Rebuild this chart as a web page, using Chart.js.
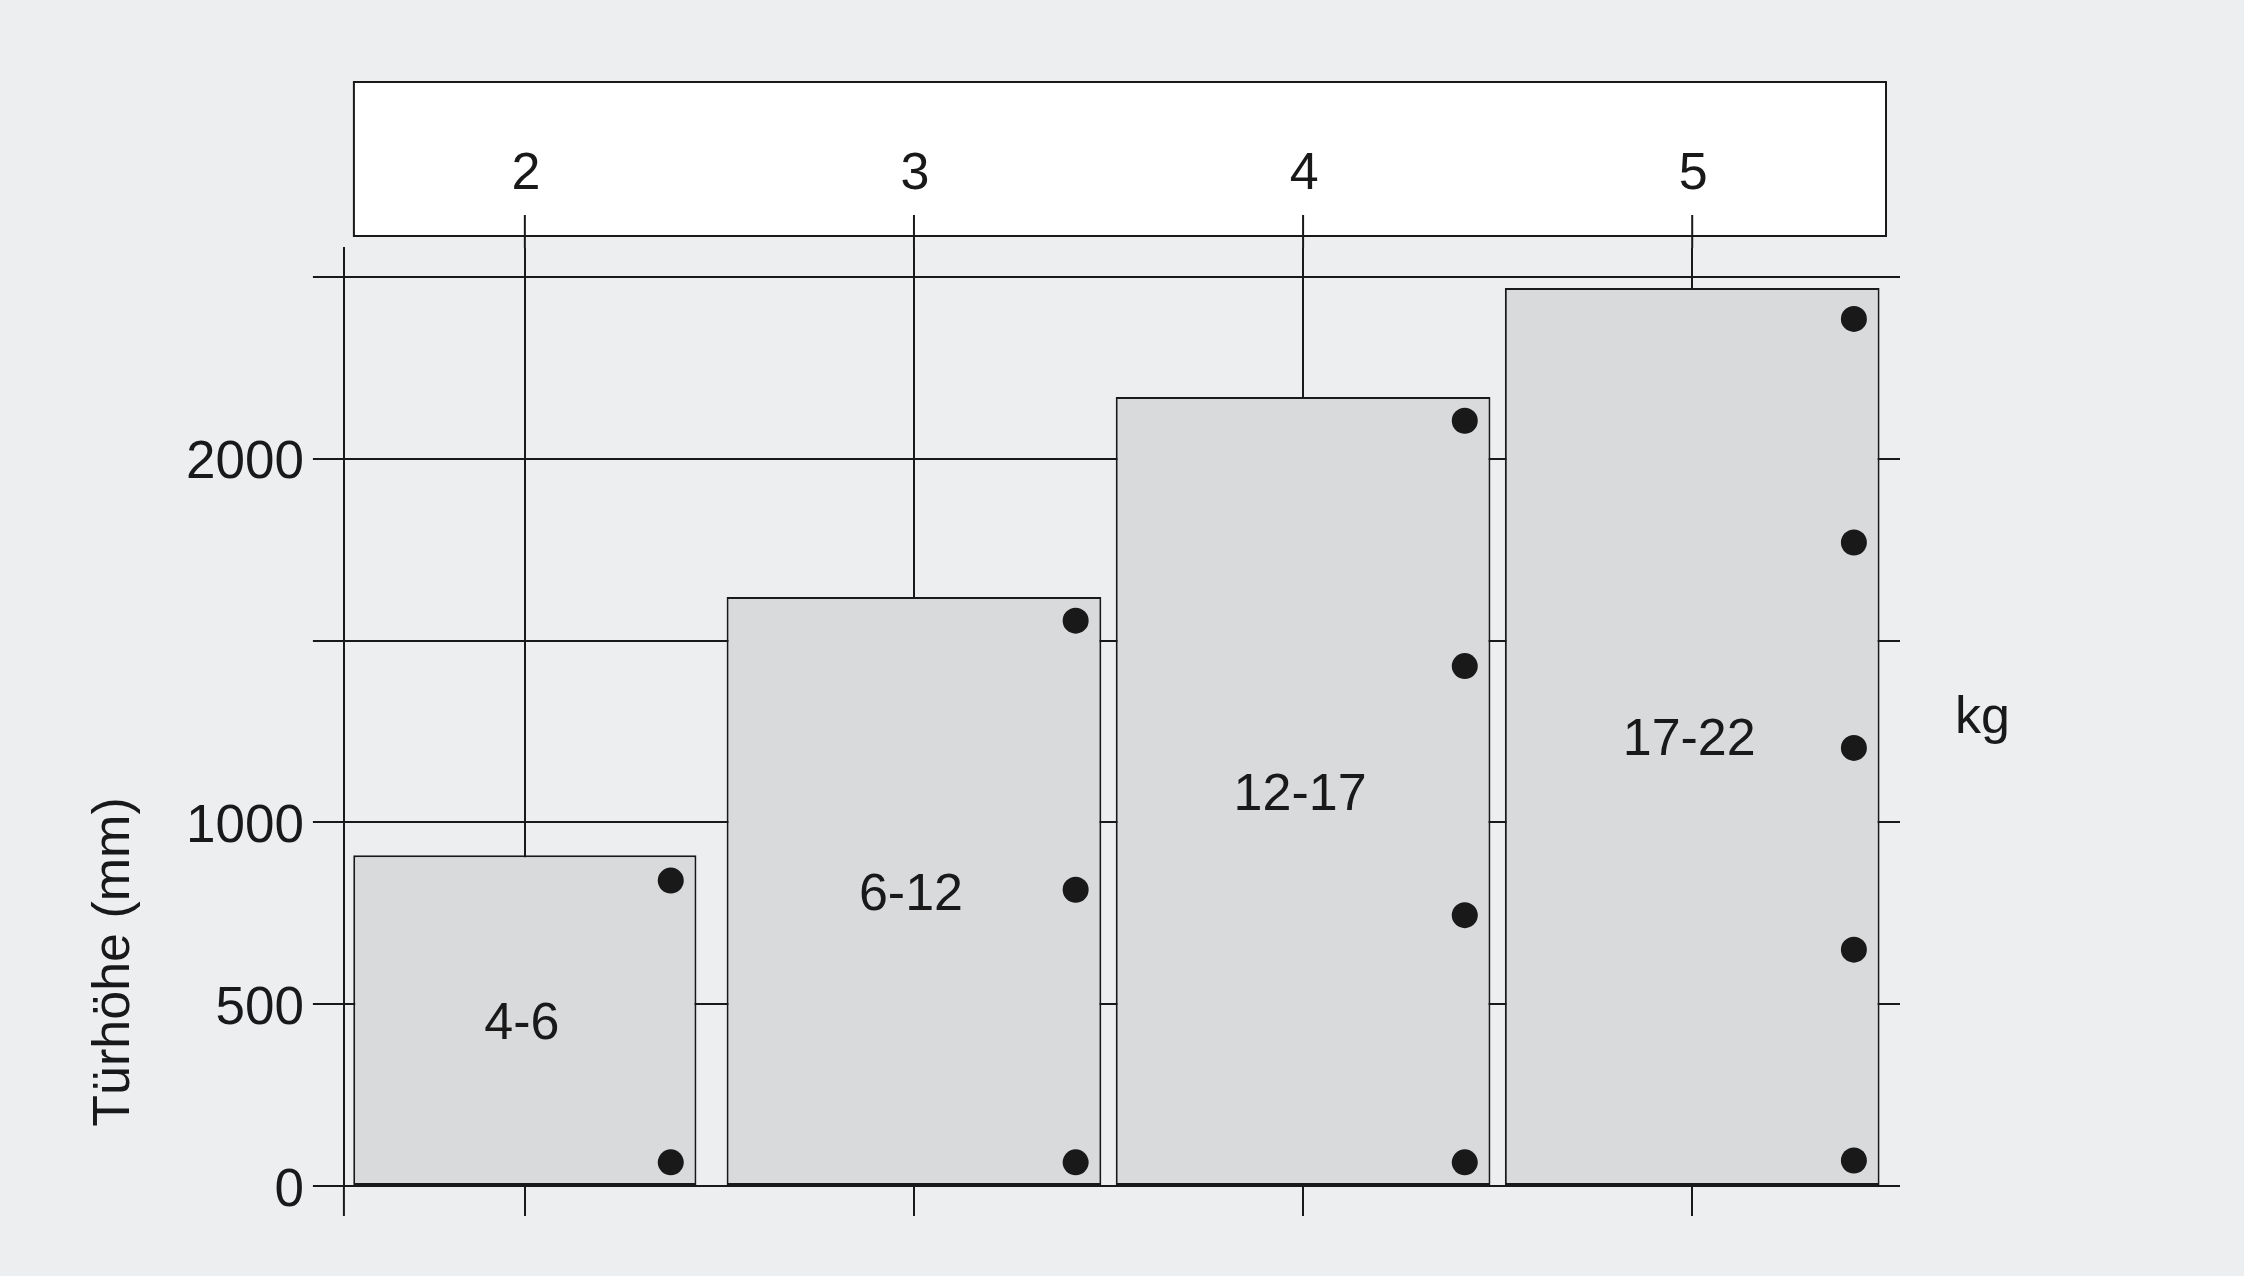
<!DOCTYPE html>
<html>
<head>
<meta charset="utf-8">
<script src="https://cdn.jsdelivr.net/npm/chart.js@4.4.1/dist/chart.umd.min.js"></script>
<style>
    html, body { margin: 0; padding: 0; background: #eceef0; }
    #wrap { width: 2244px; height: 1276px; position: relative; }
</style>
</head>
<body>
<div id="wrap"><canvas id="chart"></canvas></div>
<script>
// Number of hinges per door size
const hinges = [2, 3, 4, 5];
// Max door height (mm) for each hinge count
const doorHeights = [910, 1620, 2170, 2470];
// Door weight range (kg)
const weightRanges = ['4-6', '6-12', '12-17', '17-22'];
// Hinge heights (mm) drawn as dots on each door
const hingePositions = [
    [840, 65],
    [1555, 815, 65],
    [2105, 1430, 745, 65],
    [2385, 1770, 1205, 650, 70]
];
const yStep = 500;
const yTickLabels = [0, 500, 1000, 2000];
const yAxisTitle = 'Türhöhe (mm)';
const unitLabel = 'kg';

const INK = '#19191a';
const BG = '#eceef0';
const FONT = '"Liberation Sans", Arial, sans-serif';
const LINE = 2;
const narrowBar = 0.882;
const wideBar = 0.963;

function barPct(i) {
    return i === 0 ? narrowBar : wideBar;
}

const dots = [];
hingePositions.forEach((list, i) => {
    list.forEach(v => dots.push({ x: hinges[i] + barPct(i) / 2 - 0.066, y: v }));
});

const decor = {
    id: 'decor',
    beforeDraw(chart) {
        const ctx = chart.ctx;
        ctx.save();
        ctx.fillStyle = BG;
        ctx.fillRect(0, 0, chart.width, chart.height);
        ctx.restore();
    },
    afterDraw(chart) {
        const { ctx, chartArea: a, scales: { x, y } } = chart;
        ctx.save();
        ctx.strokeStyle = INK;
        ctx.fillStyle = INK;
        ctx.lineWidth = LINE;
        ctx.font = '52px ' + FONT;
        ctx.textAlign = 'center';
        ctx.textBaseline = 'middle';

        // y axis runs on below the zero line
        ctx.beginPath();
        ctx.moveTo(a.left, a.bottom);
        ctx.lineTo(a.left, a.bottom + 30);
        ctx.stroke();

        // header box with hinge counts
        const boxL = a.left + 10, boxR = a.right - 14;
        const boxB = a.top - 12, boxT = boxB - 154;
        ctx.fillStyle = '#ffffff';
        ctx.fillRect(boxL, boxT, boxR - boxL, boxB - boxT);
        ctx.strokeRect(boxL, boxT, boxR - boxL, boxB - boxT);
        ctx.fillStyle = INK;
        hinges.forEach(h => {
            const px = x.getPixelForValue(h);
            ctx.beginPath();
            ctx.moveTo(px, boxB - 21);
            ctx.lineTo(px, a.top);
            ctx.stroke();
            ctx.fillText(String(h), px + 1, boxT + 93);
        });

        // weight labels inside doors
        weightRanges.forEach((t, i) => {
            ctx.fillText(t, x.getPixelForValue(hinges[i]) - 3, y.getPixelForValue(doorHeights[i] / 2) + 4);
        });

        // unit on the right
        ctx.textAlign = 'left';
        ctx.fillText(unitLabel, a.right + 55, (a.top + a.bottom) / 2 + 2);

        // y title
        ctx.translate(a.left - 229, a.bottom - 224);
        ctx.rotate(-Math.PI / 2);
        ctx.textAlign = 'center';
        ctx.fillText(yAxisTitle, 0, 0);
        ctx.restore();
    }
};

const barStyle = {
    backgroundColor: '#d9dadc',
    borderColor: INK,
    borderWidth: LINE,
    borderSkipped: false,
    grouped: false,
    categoryPercentage: 1,
    order: 1
};

new Chart(document.getElementById('chart'), {
    type: 'bar',
    data: {
        datasets: [
            {
                type: 'scatter',
                data: dots,
                pointRadius: 13,
                pointHoverRadius: 13,
                backgroundColor: INK,
                borderWidth: 0,
                order: 0
            },
            Object.assign({
                data: [{ x: hinges[0], y: doorHeights[0] }],
                barPercentage: narrowBar
            }, barStyle),
            Object.assign({
                data: hinges.slice(1).map((h, i) => ({ x: h, y: doorHeights[i + 1] })),
                barPercentage: wideBar
            }, barStyle)
        ]
    },
    options: {
        responsive: true,
        maintainAspectRatio: false,
        animation: false,
        devicePixelRatio: 1,
        layout: {
            padding: { left: 177, right: 344, top: 248, bottom: 60 }
        },
        plugins: {
            legend: { display: false },
            tooltip: { enabled: false }
        },
        scales: {
            x: {
                type: 'linear',
                min: 1.535,
                max: 5.534,
                offset: false,
                border: { display: false },
                grid: { color: INK, lineWidth: LINE, tickLength: 30, offset: false },
                ticks: { display: false },
                afterBuildTicks: s => {
                    s.ticks = hinges.map(v => ({ value: v }));
                }
            },
            y: {
                type: 'linear',
                min: 0,
                max: 2580,
                border: { display: true, color: INK, width: LINE },
                grid: { color: INK, lineWidth: LINE, tickLength: 31 },
                ticks: {
                    autoSkip: false,
                    padding: 9,
                    labelOffset: 5,
                    color: INK,
                    font: { family: FONT, size: 53 },
                    callback: v => yTickLabels.includes(v) ? String(v) : ''
                },
                afterBuildTicks: s => {
                    const t = [];
                    for (let v = 0; v <= s.max; v += yStep) t.push({ value: v });
                    s.ticks = t;
                }
            }
        }
    },
    plugins: [decor]
});
</script>
</body>
</html>
